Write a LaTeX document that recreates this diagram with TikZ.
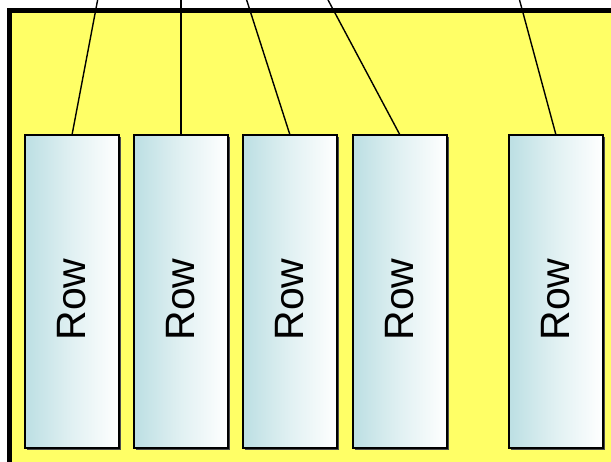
\documentclass[tikz,border=0pt]{standalone}
\usepackage{fontspec}
\setmainfont{Liberation Sans}
\definecolor{frameyellow}{HTML}{FFFF66}
\definecolor{rowteal}{HTML}{BCDFE3}
\begin{document}
\begin{tikzpicture}[x=1pt,y=-1pt,
  rowbox/.style={draw=black, line width=1.3pt, minimum width=94pt, minimum height=313pt,
    inner sep=0pt, outer sep=0pt, left color=rowteal, right color=white, shading angle=90,
    middle color=rowteal!45!white},
  rowshadow/.style={fill=black!70, minimum width=94pt, minimum height=313pt, inner sep=0pt},
  rowlabel/.style={rotate=90, font=\fontsize{41}{41}\selectfont, inner sep=0pt},
  link/.style={draw=black, line width=1.4pt}]
\useasboundingbox (0,0) rectangle (611,461);
\fill[white] (0,0) rectangle (611,461);
\draw[fill=frameyellow, line width=5pt] (9.5,10.5) rectangle (640,490);
% shadows
\foreach \cx in {72,181,290,400,556}{
  \node[rowshadow] at (\cx+1.5,293) {};
}
\node[rowbox] (r1) at (72,291.5) {};
\node[rowbox] (r2) at (181,291.5) {};
\node[rowbox] (r3) at (290,291.5) {};
\node[rowbox] (r4) at (400,291.5) {};
\node[rowbox] (r5) at (556,291.5) {};
\foreach \n in {r1,r2,r3,r4,r5}{
  \node[rowlabel] at ([yshift=-8pt]\n.center) {Row};
}
\coordinate (t1) at (98,-2);
\coordinate (t2) at (181,-2);
\coordinate (t3) at (246,-2);
\coordinate (t4) at (327,-2);
\coordinate (t5) at (519,-2);
\draw[link] (t1) -- (r1.north);
\draw[link] (t2) -- (r2.north);
\draw[link] (t3) -- (r3.north);
\draw[link] (t4) -- (r4.north);
\draw[link] (t5) -- (r5.north);
\end{tikzpicture}
\end{document}
